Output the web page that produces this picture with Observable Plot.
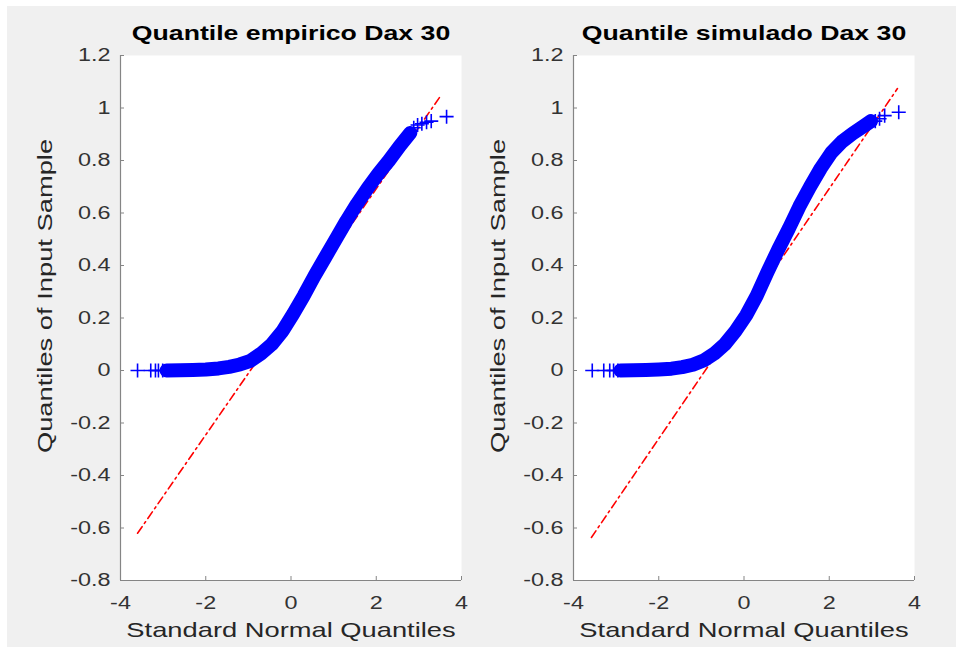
<!DOCTYPE html>
<html><head><meta charset="utf-8">
<script src="https://cdn.jsdelivr.net/npm/d3@7"></script>
<script src="https://cdn.jsdelivr.net/npm/@observablehq/plot@0.6"></script>
<style>
html,body{margin:0;padding:0;background:#fff;}
#fig{position:absolute;left:7px;top:6px;width:949px;height:641px;background:#f0f0f0;overflow:hidden;}
#fig svg{position:absolute;top:0;}
</style></head><body><div id="fig"></div>
<script>
// ---- shared axis text ----
const xTicks = [-4, -2, 0, 2, 4];
const yTicks = [-0.8, -0.6, -0.4, -0.2, 0, 0.2, 0.4, 0.6, 0.8, 1, 1.2];
const titles = ["Quantile empirico Dax 30", "Quantile simulado Dax 30"];
const xLabel = "Standard Normal Quantiles";
const yLabel = "Quantiles of Input Sample";

const empBandX = [-2.92, -2.6, -2.3, -2.0, -1.7, -1.45, -1.2, -0.95, -0.7, -0.45, -0.2, 0.05, 0.3, 0.55, 0.8, 1.05, 1.3, 1.55, 1.8, 2.05, 2.3, 2.55, 2.8];
const empBandY = [0.0, 0.001, 0.002, 0.004, 0.008, 0.014, 0.023, 0.037, 0.065, 0.10, 0.15, 0.215, 0.285, 0.36, 0.43, 0.50, 0.57, 0.635, 0.695, 0.75, 0.80, 0.855, 0.905];
// isolated tail points
const empPlusX = [-3.6, -3.29, -3.18, -3.11, -3.01, 2.88, 2.97, 3.07, 3.18, 3.29, 3.65];
const empPlusY = [0, 0, 0, 0, 0, 0.925, 0.935, 0.94, 0.946, 0.95, 0.967];
// reference line
const empRefX = [-3.6, 3.5];
const empRefY = [-0.62, 1.044];

// ---- simulated panel ----
const simBandX = [-2.9, -2.6, -2.3, -2.0, -1.7, -1.45, -1.2, -0.95, -0.7, -0.45, -0.2, 0.05, 0.3, 0.55, 0.8, 1.05, 1.3, 1.55, 1.8, 2.05, 2.3, 2.55, 2.8, 2.98];
const simBandY = [0.0, 0.001, 0.002, 0.004, 0.007, 0.013, 0.022, 0.038, 0.064, 0.10, 0.15, 0.21, 0.285, 0.375, 0.46, 0.54, 0.625, 0.70, 0.77, 0.83, 0.872, 0.903, 0.93, 0.95];
const simPlusX = [-3.56, -3.29, -3.15, -3.06, -2.96, 3.08, 3.18, 3.30, 3.63];
const simPlusY = [0, 0, 0, 0, 0, 0.95, 0.959, 0.971, 0.984];
const simRefX = [-3.58, 3.6];
const simRefY = [-0.636, 1.074];

const zip = (xs, ys) => xs.map((x, i) => ({x, y: ys[i]}));
const fmt = d => String(+d.toFixed(1));
const axisGray = "#858585";
const textGray = "#333333";

function panel(title, bandX, bandY, plusX, plusY, refX, refY) {
  return Plot.plot({
    width: 460,
    height: 641,
    marginLeft: 113,
    marginRight: 6,
    marginTop: 49,
    marginBottom: 67,
    style: {fontFamily: "'Liberation Sans', Arial, sans-serif", background: "transparent", overflow: "visible"},
    x: {domain: [-4, 4], label: null},
    y: {domain: [-0.8, 1.2], label: null},
    marks: [
      Plot.frame({fill: "white", stroke: "none"}),
      Plot.axisX({ticks: xTicks, tickSize: 0, tickPadding: 16, tickFormat: fmt, fontSize: 18, fill: textGray, label: null}),
      Plot.axisY({ticks: yTicks, tickSize: 0, tickPadding: 10, tickFormat: fmt, fontSize: 18, fill: textGray, label: null}),
      Plot.axisX({ticks: xTicks, tickSize: -4, text: null, stroke: axisGray, label: null}),
      Plot.axisY({ticks: yTicks, tickSize: -4, text: null, stroke: axisGray, label: null}),
      Plot.ruleX([-4], {stroke: axisGray, strokeWidth: 1.2}),
      Plot.ruleY([-0.8], {stroke: axisGray, strokeWidth: 1.2}),
      Plot.line(zip(refX, refY), {x: "x", y: "y", stroke: "#ff0000", strokeWidth: 1.6, strokeDasharray: "8,4,2,4"}),
      Plot.line(zip(bandX, bandY), {x: "x", y: "y", stroke: "#0000ff", strokeWidth: 14, strokeLinejoin: "round", curve: "linear"}),
      Plot.dot(zip(plusX, plusY), {x: "x", y: "y", symbol: "plus", r: 4.6, stroke: "#0000ff", strokeWidth: 1.6}),
      Plot.text([title], {text: d => d, frameAnchor: "top", dy: -22, lineAnchor: "middle", textAnchor: "middle", fontSize: 20.5, fontWeight: "bold", fill: "#000"}),
      Plot.text([xLabel], {text: d => d, frameAnchor: "bottom", dy: 50, lineAnchor: "middle", textAnchor: "middle", fontSize: 21, fill: "#262626"}),
      Plot.text([yLabel], {text: d => d, frameAnchor: "left", dx: -75, dy: -22, rotate: -90, lineAnchor: "middle", textAnchor: "middle", fontSize: 21, fill: "#262626"})
    ]
  });
}

const fig = document.getElementById("fig");
const p1 = panel(titles[0], empBandX, empBandY, empPlusX, empPlusY, empRefX, empRefY);
const p2 = panel(titles[1], simBandX, simBandY, simPlusX, simPlusY, simRefX, simRefY);
p1.style.left = "0px";
p2.style.left = "453px";
fig.appendChild(p1);
fig.appendChild(p2);

// the reference renders its glyphs about 1.3x wider than the stock font
fig.querySelectorAll("text").forEach(t => {
  if (t.querySelector("tspan")) return;
  const w = t.getComputedTextLength();
  if (w > 0) {
    t.setAttribute("textLength", (w * 1.3).toFixed(1));
    t.setAttribute("lengthAdjust", "spacingAndGlyphs");
  }
});
</script></body></html>
